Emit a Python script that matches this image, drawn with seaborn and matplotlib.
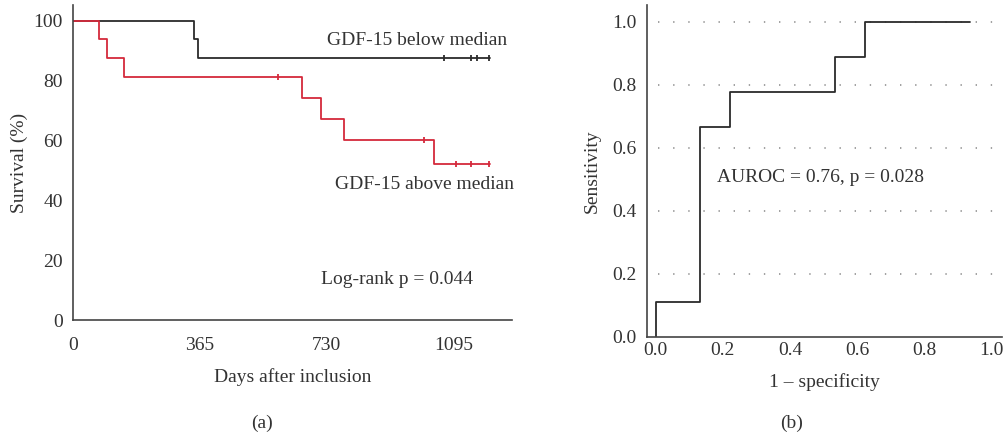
import numpy as np
import pandas as pd
import seaborn as sns
import matplotlib.pyplot as plt

# Kaplan-Meier, GDF-15 below median
below_days = [0, 349, 361, 1200]
below_surv = [100, 93.75, 87.5, 87.5]
below_cens_days = [1068, 1144, 1163, 1196]
below_cens_surv = [87.5, 87.5, 87.5, 87.5]

# Kaplan-Meier, GDF-15 above median
above_days = [0, 76, 98, 147, 659, 714, 780, 1039, 1200]
above_surv = [100, 93.75, 87.5, 81.25, 74, 67, 60, 52, 52]
above_cens_days = [591, 1011, 1101, 1146, 1196]
above_cens_surv = [81.25, 60, 52, 52, 52]

# ROC curve
fpr = [0, 0, 0.133, 0.133, 0.222, 0.222, 0.533, 0.533, 0.622, 0.622, 0.935]
tpr = [0, 0.111, 0.111, 0.667, 0.667, 0.778, 0.778, 0.889, 0.889, 1.0, 1.0]

day_ticks = [0, 365, 730, 1095]
surv_ticks = [0, 20, 40, 60, 80, 100]
roc_ticks = [0.0, 0.2, 0.4, 0.6, 0.8, 1.0]

sns.set_style("white")
plt.rcParams['font.family'] = ['Liberation Serif', 'DejaVu Serif']
plt.rcParams['font.size'] = 14
txt = '#333333'
spine = '#444444'
red = '#d42a3c'
blk = '#2b2b2b'

fig = plt.figure(figsize=(10.07, 4.36), dpi=100)
ax1 = fig.add_axes([0.0722, 0.266, 0.4362, 0.7225])
ax2 = fig.add_axes([0.6428, 0.2278, 0.3519, 0.7607])

# panel (a)
sns.lineplot(x=below_days, y=below_surv, ax=ax1, color=blk, lw=1.3,
             drawstyle='steps-post', estimator=None, sort=False)
sns.lineplot(x=above_days, y=above_surv, ax=ax1, color=red, lw=1.3,
             drawstyle='steps-post', estimator=None, sort=False)
sns.scatterplot(x=below_cens_days, y=below_cens_surv, ax=ax1, marker='|',
                s=14, color=blk, linewidth=1.3)
sns.scatterplot(x=above_cens_days, y=above_cens_surv, ax=ax1, marker='|',
                s=14, color=red, linewidth=1.3)
ax1.set_xlim(0, 1263)
ax1.set_ylim(0, 105.2)
ax1.set_xticks(day_ticks)
ax1.set_yticks(surv_ticks)
ax1.tick_params(axis='x', length=6.5, width=1.1, color=spine, pad=6, labelcolor=txt)
ax1.tick_params(axis='y', length=0, pad=7, labelcolor=txt)
ax1.set_xlabel('Days after inclusion', color=txt, labelpad=10)
ax1.set_ylabel('Survival (%)', color=txt, labelpad=4)
ax1.text(1248, 93.5, 'GDF-15 below median', ha='right', va='center', color=txt)
ax1.text(1268, 45.4, 'GDF-15 above median', ha='right', va='center', color=txt, clip_on=False)
ax1.text(714, 13.4, 'Log-rank p = 0.044', ha='left', va='center', color=txt)

# panel (b)
for yv in roc_ticks[1:]:
    ax2.axhline(yv, xmin=0.03, xmax=1, color='#888888', lw=1.1, ls=(0, (0.9, 9)))
sns.lineplot(x=fpr, y=tpr, ax=ax2, color=blk, lw=1.3,
             estimator=None, sort=False)
ax2.set_xlim(-0.025, 1.03)
ax2.set_ylim(0, 1.053)
ax2.set_xticks(roc_ticks)
ax2.set_yticks(roc_ticks)
ax2.set_xticklabels([f'{v:.1f}' for v in roc_ticks])
ax2.set_yticklabels([f'{v:.1f}' for v in roc_ticks])
ax2.tick_params(axis='both', length=0, labelcolor=txt)
ax2.tick_params(axis='x', pad=4)
ax2.tick_params(axis='y', pad=8)
ax2.set_xlabel('1 – specificity', color=txt, labelpad=10)
ax2.set_ylabel('Sensitivity', color=txt, labelpad=8)
ax2.text(0.183, 0.504, 'AUROC = 0.76, p = 0.028', ha='left', va='center', color=txt)

for ax in (ax1, ax2):
    for s in ('top', 'right'):
        ax.spines[s].set_visible(False)
    for s in ('left', 'bottom'):
        ax.spines[s].set_color(spine)
        ax.spines[s].set_linewidth(1.2)

fig.text(262 / 1007, 1 - 423 / 436, '(a)', ha='center', va='center', color=txt)
fig.text(792 / 1007, 1 - 423 / 436, '(b)', ha='center', va='center', color=txt)

fig.savefig('out.png', dpi=100)
